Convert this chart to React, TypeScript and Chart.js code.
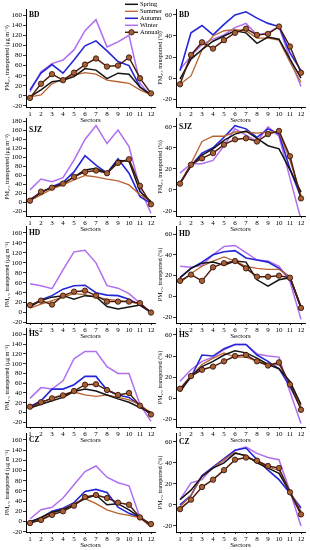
import React, { useEffect, useRef } from 'react';
import { Chart, registerables } from 'chart.js';

Chart.register(...registerables);

// ---------------- DATA ----------------
const SECTORS = [1, 2, 3, 4, 5, 6, 7, 8, 9, 10, 11, 12];
const SERIES_NAMES = ['Spring', 'Summer', 'Autumn', 'Winter', 'Annual'];
const CONC_TICKS = [-20, 0, 20, 40, 60, 80, 100, 120, 140, 160];
const CONC_TICKS_SJZ = [-20, 0, 20, 40, 60, 80, 100, 120, 140, 160, 180];
const PCT_TICKS = [-20, 0, 20, 40, 60];
const SITES = ['BD', 'SJZ', 'HD', 'HS', 'CZ'];

// BD
const BD_CONC_SPRING = [-2, 12, 28, 31, 38, 54, 51, 34, 45, 43, 17, 2];
const BD_CONC_SUMMER = [-2, 2, 24, 33, 41, 46, 43, 31, 28, 25, 12, 2];
const BD_CONC_AUTUMN = [12, 45, 62, 45, 71, 99, 109, 89, 68, 60, 18, 2];
const BD_CONC_WINTER = [8, 48, 64, 71, 91, 129, 151, 97, 107, 120, 25, -1];
const BD_CONC_ANNUAL = [-4, 24, 43, 31, 46, 62, 74, 58, 60, 76, 35, 5];
const BD_PCT_SPRING = [-1, 18, 27, 35, 40, 45, 43, 33, 39, 37, 18, 0];
const BD_PCT_SUMMER = [-6, 2, 27, 40, 45, 46, 45, 38, 38, 36, 15, -4];
const BD_PCT_AUTUMN = [7, 43, 50, 41, 51, 60, 63, 57, 52, 49, 24, 7];
const BD_PCT_WINTER = [8, 21, 32, 37, 41, 48, 52, 41, 43, 49, 18, -8];
const BD_PCT_ANNUAL = [-6, 22, 34, 28, 36, 43, 47, 41, 42, 49, 30, 5];

// SJZ
const SJZ_CONC_SPRING = [4, 21, 33, 40, 56, 71, 75, 64, 92, 91, 23, 1];
const SJZ_CONC_SUMMER = [3, 16, 29, 38, 49, 59, 56, 51, 47, 38, 16, 1];
const SJZ_CONC_AUTUMN = [6, 21, 34, 44, 67, 103, 82, 64, 96, 64, 12, -3];
const SJZ_CONC_WINTER = [27, 51, 45, 54, 93, 139, 170, 130, 160, 123, 30, -25];
const SJZ_CONC_ANNUAL = [3, 23, 32, 41, 56, 67, 70, 64, 87, 95, 36, -5];
const SJZ_PCT_SPRING = [6, 23, 33, 39, 47, 53, 56, 49, 42, 39, 19, -2];
const SJZ_PCT_SUMMER = [6, 25, 46, 51, 51, 55, 55, 54, 55, 55, 28, -5];
const SJZ_PCT_AUTUMN = [7, 23, 35, 40, 50, 61, 58, 50, 58, 53, 20, -7];
const SJZ_PCT_WINTER = [16, 25, 25, 28, 42, 58, 52, 46, 60, 51, 11, -28];
const SJZ_PCT_ANNUAL = [6, 24, 30, 35, 43, 48, 49, 46, 53, 56, 32, -8];

// HD
const HD_CONC_SPRING = [12, 24, 31, 34, 27, 34, 32, 12, 7, 11, 15, 1];
const HD_CONC_SUMMER = [9, 17, 24, 31, 38, 36, 31, 27, 24, 22, 17, 1];
const HD_CONC_AUTUMN = [12, 26, 34, 47, 54, 55, 40, 35, 34, 27, 15, 0];
const HD_CONC_WINTER = [58, 54, 48, 86, 122, 125, 100, 54, 49, 38, 19, 0];
const HD_CONC_ANNUAL = [15, 24, 16, 34, 42, 44, 34, 22, 22, 22, 19, 0];
const HD_PCT_SPRING = [18, 27, 32, 33, 30, 34, 33, 16, 10, 16, 18, -10];
const HD_PCT_SUMMER = [13, 22, 29, 34, 38, 34, 29, 27, 26, 26, 19, -10];
const HD_PCT_AUTUMN = [18, 27, 33, 40, 43, 44, 37, 35, 33, 27, 18, -11];
const HD_PCT_WINTER = [29, 28, 30, 40, 48, 49, 42, 35, 34, 29, 14, -22];
const HD_PCT_ANNUAL = [15, 21, 15, 28, 32, 34, 27, 19, 19, 20, 18, -11];

// HS
const HS_CONC_SPRING = [9, 17, 24, 31, 43, 48, 44, 36, 28, 21, 10, 0];
const HS_CONC_SUMMER = [10, 21, 29, 37, 42, 36, 33, 36, 31, 26, 16, -1];
const HS_CONC_AUTUMN = [12, 24, 48, 48, 57, 74, 74, 46, 36, 31, 14, -5];
const HS_CONC_WINTER = [29, 51, 48, 65, 110, 125, 125, 94, 80, 80, 16, -18];
const HS_CONC_ANNUAL = [12, 21, 29, 35, 44, 57, 58, 46, 36, 40, 14, -4];
const HS_PCT_SPRING = [6, 21, 30, 35, 41, 45, 43, 38, 32, 28, 16, -6];
const HS_PCT_SUMMER = [8, 21, 32, 38, 43, 39, 39, 35, 32, 32, 14, -8];
const HS_PCT_AUTUMN = [7, 20, 41, 40, 47, 51, 51, 41, 35, 28, 11, -9];
const HS_PCT_WINTER = [16, 27, 35, 39, 46, 51, 51, 42, 40, 39, 6, -24];
const HS_PCT_ANNUAL = [9, 21, 27, 30, 35, 40, 41, 35, 31, 34, 13, -11];

// CZ
const CZ_CONC_SPRING = [-2, 8, 18, 23, 33, 45, 52, 33, 35, 23, 8, -7];
const CZ_CONC_SUMMER = [-2, 5, 15, 24, 35, 45, 35, 23, 16, 12, 7, -11];
const CZ_CONC_AUTUMN = [0, 7, 20, 26, 37, 59, 63, 57, 28, 16, 8, -8];
const CZ_CONC_WINTER = [5, 23, 28, 46, 72, 98, 109, 87, 76, 70, 8, -8];
const CZ_CONC_ANNUAL = [-3, 3, 13, 20, 31, 48, 52, 46, 37, 33, 8, -5];
const CZ_PCT_SPRING = [5, 14, 27, 35, 40, 49, 47, 40, 35, 30, 12, -8];
const CZ_PCT_SUMMER = [-2, 9, 27, 35, 43, 50, 46, 41, 36, 33, 13, -6];
const CZ_PCT_AUTUMN = [0, 9, 28, 36, 44, 52, 54, 43, 33, 24, 11, -3];
const CZ_PCT_WINTER = [5, 21, 24, 36, 42, 52, 55, 49, 45, 43, 13, -20];
const CZ_PCT_ANNUAL = [-4, 5, 17, 24, 33, 43, 45, 42, 37, 35, 12, -9];

const CONC_SERIES = [
  [BD_CONC_SPRING, BD_CONC_SUMMER, BD_CONC_AUTUMN, BD_CONC_WINTER, BD_CONC_ANNUAL],
  [SJZ_CONC_SPRING, SJZ_CONC_SUMMER, SJZ_CONC_AUTUMN, SJZ_CONC_WINTER, SJZ_CONC_ANNUAL],
  [HD_CONC_SPRING, HD_CONC_SUMMER, HD_CONC_AUTUMN, HD_CONC_WINTER, HD_CONC_ANNUAL],
  [HS_CONC_SPRING, HS_CONC_SUMMER, HS_CONC_AUTUMN, HS_CONC_WINTER, HS_CONC_ANNUAL],
  [CZ_CONC_SPRING, CZ_CONC_SUMMER, CZ_CONC_AUTUMN, CZ_CONC_WINTER, CZ_CONC_ANNUAL],
];
const PCT_SERIES = [
  [BD_PCT_SPRING, BD_PCT_SUMMER, BD_PCT_AUTUMN, BD_PCT_WINTER, BD_PCT_ANNUAL],
  [SJZ_PCT_SPRING, SJZ_PCT_SUMMER, SJZ_PCT_AUTUMN, SJZ_PCT_WINTER, SJZ_PCT_ANNUAL],
  [HD_PCT_SPRING, HD_PCT_SUMMER, HD_PCT_AUTUMN, HD_PCT_WINTER, HD_PCT_ANNUAL],
  [HS_PCT_SPRING, HS_PCT_SUMMER, HS_PCT_AUTUMN, HS_PCT_WINTER, HS_PCT_ANNUAL],
  [CZ_PCT_SPRING, CZ_PCT_SUMMER, CZ_PCT_AUTUMN, CZ_PCT_WINTER, CZ_PCT_ANNUAL],
];

// ---------------- LAYOUT / STYLE ----------------
const FONT = "'Liberation Serif', 'Times New Roman', 'DejaVu Serif', serif";
const CONC_TITLE = 'PM\u2082.\u2085 transported (\u03BCg m\u207B\u00B3)';
const PCT_TITLE = 'PM\u2082.\u2085 transported (%)';

const SERIES_STYLE = [
  { color: '#141414', width: 1.5, radius: 0, fill: '#141414', order: 1 },
  { color: '#b9622f', width: 1.3, radius: 0, fill: '#b9622f', order: 2 },
  { color: '#2626d9', width: 1.6, radius: 0, fill: '#2626d9', order: 3 },
  { color: '#b06ef0', width: 1.5, radius: 0, fill: '#b06ef0', order: 4 },
  { color: '#4e1c0c', width: 1.5, radius: 2.7, fill: '#a85f35', order: 0 },
];

const ROW_LAYOUT = [
  { top: 9, bottom: 107, padTop: 9, concMin: -22, concMax: 172, pctMin: -27.6, pctMax: 65.7 },
  { top: 118, bottom: 216, padTop: 6, concMin: -31, concMax: 186.7, pctMin: -24.7, pctMax: 68.3 },
  { top: 226, bottom: 323, padTop: 6, concMin: -21, concMax: 174, pctMin: -25.5, pctMax: 67.7 },
  { top: 328, bottom: 427, padTop: 6, concMin: -29.6, concMax: 173, pctMin: -27.3, pctMax: 66.6 },
  { top: 433, bottom: 532, padTop: 6, concMin: -20.6, concMax: 173.7, pctMin: -25.7, pctMax: 68.3 },
];

const X_AXIS_H = 17;
const X_MIN = 1 - 4 / 11;
const X_MAX = 12 + 4 / 11;

const panelLabelPlugin = {
  id: 'panelLabel',
  afterDraw(chart: any, _args: any, opts: any) {
    if (!opts || !opts.text) return;
    const { ctx, chartArea } = chart;
    const y = chart.scales.y.getPixelForValue(opts.value);
    ctx.save();
    ctx.font = `bold 7.5px ${FONT}`;
    ctx.fillStyle = '#000';
    ctx.textBaseline = 'middle';
    ctx.textAlign = 'left';
    ctx.fillText(opts.text, chartArea.left + 3, y);
    ctx.restore();
  },
};

const seasonLegendPlugin = {
  id: 'seasonLegend',
  afterDraw(chart: any, _args: any, opts: any) {
    if (!opts || !opts.show) return;
    const { ctx } = chart;
    ctx.save();
    chart.data.datasets.forEach((ds: any, i: number) => {
      const y = opts.y0 + i * opts.dy;
      ctx.strokeStyle = ds.borderColor;
      ctx.lineWidth = ds.borderWidth;
      ctx.beginPath();
      ctx.moveTo(opts.x0, y);
      ctx.lineTo(opts.x0 + opts.len, y);
      ctx.stroke();
      if (ds.pointRadius > 0) {
        ctx.beginPath();
        ctx.arc(opts.x0 + opts.len / 2, y, ds.pointRadius, 0, Math.PI * 2);
        ctx.fillStyle = ds.pointBackgroundColor;
        ctx.fill();
        ctx.lineWidth = ds.pointBorderWidth;
        ctx.strokeStyle = ds.pointBorderColor;
        ctx.stroke();
      }
      ctx.fillStyle = '#000';
      ctx.font = `6.5px ${FONT}`;
      ctx.textBaseline = 'middle';
      ctx.textAlign = 'left';
      ctx.fillText(ds.label, opts.x0 + opts.len + 2, y);
    });
    ctx.restore();
  },
};

type PanelProps = {
  row: number;
  isLeft: boolean;
};

function Panel({ row, isLeft }: PanelProps) {
  const ref = useRef<HTMLCanvasElement | null>(null);
  const lay = ROW_LAYOUT[row];
  const width = isLeft ? 175 : 155;
  const left = isLeft ? 0 : 155;
  const height = lay.padTop + (lay.bottom - lay.top) + X_AXIS_H;
  const top = lay.top - lay.padTop;

  useEffect(() => {
    const series = isLeft ? CONC_SERIES[row] : PCT_SERIES[row];
    const ticks = isLeft ? (SITES[row] === 'SJZ' ? CONC_TICKS_SJZ : CONC_TICKS) : PCT_TICKS;
    const datasets = series.map((vals, i) => {
      const st = SERIES_STYLE[i];
      return {
        label: SERIES_NAMES[i],
        data: SECTORS.map((s, k) => ({ x: s, y: vals[k] })),
        borderColor: st.color,
        backgroundColor: st.fill,
        borderWidth: st.width,
        pointRadius: st.radius,
        pointBackgroundColor: st.fill,
        pointBorderColor: '#2a0e04',
        pointBorderWidth: 0.8,
        tension: 0,
        fill: false,
        order: st.order,
      };
    });
    const tickFont = { family: FONT, size: 7 };
    const chart = new Chart(ref.current as HTMLCanvasElement, {
      type: 'line',
      data: { datasets },
      plugins: [panelLabelPlugin, seasonLegendPlugin],
      options: {
        responsive: false,
        animation: false,
        devicePixelRatio: 1,
        layout: {
          padding: isLeft
            ? { left: 3, right: 20, top: lay.padTop, bottom: 0 }
            : { left: 1, right: 5, top: lay.padTop, bottom: 0 },
        },
        scales: {
          x: {
            type: 'linear',
            min: X_MIN,
            max: X_MAX,
            afterBuildTicks: (s: any) => {
              s.ticks = SECTORS.map((v) => ({ value: v }));
            },
            afterFit: (s: any) => {
              s.height = X_AXIS_H;
            },
            ticks: {
              font: tickFont,
              color: '#000',
              padding: 1,
              maxRotation: 0,
              autoSkip: false,
              callback: (v: any) => String(v),
            },
            grid: { display: true, drawOnChartArea: false, drawTicks: true, tickLength: 2, color: '#000', lineWidth: 0.8 },
            border: { display: true, color: '#000', width: 1 },
            title: {
              display: true,
              text: 'Sectors',
              font: { family: FONT, size: 7 },
              color: '#000',
              padding: { top: 0, bottom: 0 },
            },
          },
          y: {
            type: 'linear',
            min: isLeft ? lay.concMin : lay.pctMin,
            max: isLeft ? lay.concMax : lay.pctMax,
            afterBuildTicks: (s: any) => {
              s.ticks = ticks.map((v) => ({ value: v }));
            },
            afterFit: (s: any) => {
              s.width = isLeft ? 23 : 20;
            },
            ticks: { font: tickFont, color: '#000', padding: 1, autoSkip: false },
            grid: { display: true, drawOnChartArea: false, drawTicks: true, tickLength: 3, color: '#000', lineWidth: 0.8 },
            border: { display: true, color: '#000', width: 1 },
            title: {
              display: true,
              text: isLeft ? CONC_TITLE : PCT_TITLE,
              font: { family: FONT, size: 6 },
              color: '#000',
              padding: { top: 1, bottom: 0 },
            },
          },
        },
        plugins: {
          legend: { display: false },
          tooltip: { enabled: false },
          panelLabel: { text: SITES[row], value: isLeft ? 160 : 60 },
          seasonLegend: isLeft && row === 0 ? { show: true, x0: 125, y0: 4.3, dy: 7, len: 13 } : { show: false },
        } as any,
      },
    } as any);
    return () => chart.destroy();
  }, [row, isLeft]);

  return (
    <canvas
      ref={ref}
      width={width}
      height={height}
      style={{ position: 'absolute', left, top, width, height, background: 'transparent' }}
    />
  );
}

export default function App() {
  return (
    <div style={{ position: 'absolute', left: 0, top: 0, width: 310, height: 550, background: '#fff', overflow: 'hidden' }}>
      {ROW_LAYOUT.map((_, r) => (
        <React.Fragment key={r}>
          <Panel row={r} isLeft={true} />
          <Panel row={r} isLeft={false} />
        </React.Fragment>
      ))}
    </div>
  );
}
